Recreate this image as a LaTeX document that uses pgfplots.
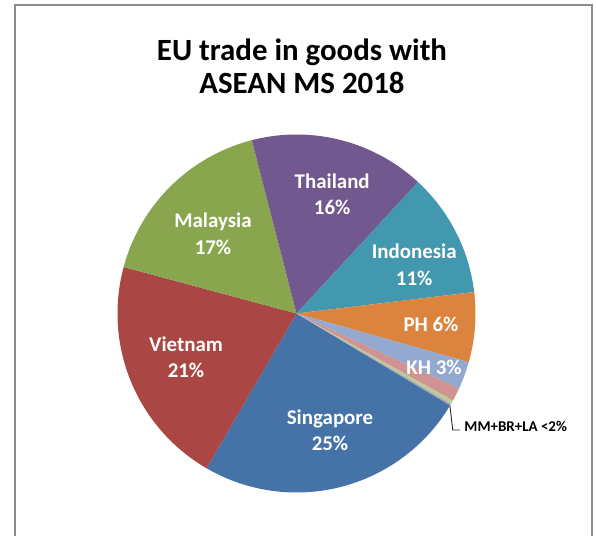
\documentclass[border=0pt]{standalone}
\usepackage{fontspec}
\setmainfont{Carlito}
\usepackage{pgfplots}
\pgfplotsset{compat=1.18}

\definecolor{cSing}{HTML}{4572A7}
\definecolor{cViet}{HTML}{AA4643}
\definecolor{cMal}{HTML}{89A54E}
\definecolor{cThai}{HTML}{71588F}
\definecolor{cIndo}{HTML}{4198AF}
\definecolor{cPH}{HTML}{DB843D}
\definecolor{cKH}{HTML}{93A9CF}
\definecolor{cMM}{HTML}{D19392}
\definecolor{cBR}{HTML}{B9CD96}
\definecolor{cLA}{HTML}{A99BBD}
\definecolor{frame}{HTML}{8C8C8C}

% one pie slice: share in percent, colour; runs clockwise from \startang
\newcommand{\slice}[2]{%
  \pgfmathsetmacro{\endang}{\startang - 3.6*#1}%
  \edef\temp{\noexpand\addplot[fill=#2, draw=none, domain=\endang:\startang, samples=80]
    ({cos(x)},{sin(x)}) -- (axis cs:0,0) -- cycle;}%
  \temp
  \global\let\startang\endang
}

\begin{document}
\begin{tikzpicture}
\begin{axis}[
  x=179bp, y=179bp,
  xmin=-1.6564, xmax=1.6732,
  ymin=-1.2430, ymax=1.7514,
  hide axis,
]
\path (axis cs:-1.6564,-1.2430) rectangle (axis cs:1.6732,1.7514);
\draw[frame, line width=1.3bp] (axis cs:-1.5726,-1.4) -- (axis cs:-1.5726,1.7235)
  -- (axis cs:1.6508,1.7235) -- (axis cs:1.6508,-1.4);

\gdef\startang{-30.9}
\slice{24.8}{cSing}
\slice{20.8}{cViet}
\slice{16.8}{cMal}
\slice{15.9}{cThai}
\slice{11.2}{cIndo}
\slice{6.3}{cPH}
\slice{2.5}{cKH}
\slice{1.2}{cMM}
\slice{0.35}{cBR}
\slice{0.15}{cLA}

% title
\node[anchor=base, font=\fontsize{31}{37}\selectfont\bfseries] at (axis cs:0.0307,1.4123) {EU trade in goods with};
\node[anchor=base, font=\fontsize{31}{37}\selectfont\bfseries] at (axis cs:0.0307,1.2302) {ASEAN MS 2018};

% slice labels
\tikzset{lbl/.style={anchor=base, text=white, font=\fontsize{21}{25}\selectfont\bfseries}}
\node[lbl] at (axis cs:0.1994,0.6994) {Thailand};
\node[lbl] at (axis cs:0.1994,0.5542) {16\%};
\node[lbl] at (axis cs:0.6575,0.3045) {Indonesia};
\node[lbl] at (axis cs:0.6575,0.1592) {11\%};
\node[lbl] at (axis cs:-0.4665,0.4793) {Malaysia};
\node[lbl] at (axis cs:-0.4665,0.3307) {17\%};
\node[lbl] at (axis cs:-0.6173,-0.2134) {Vietnam};
\node[lbl] at (axis cs:-0.6173,-0.3587) {21\%};
\node[lbl] at (axis cs:0.1872,-0.6190) {Singapore};
\node[lbl] at (axis cs:0.1872,-0.7626) {25\%};
\node[lbl] at (axis cs:0.7514,-0.1022) {PH 6\%};
\node[lbl] at (axis cs:0.7682,-0.3397) {KH 3\%};

% callout for the smallest slices
\draw[black!85, line width=0.9bp] (axis cs:0.8575,-0.5168) -- (axis cs:0.8726,-0.6508) -- (axis cs:0.9134,-0.6508);
\node[anchor=base west, inner sep=0pt, font=\fontsize{15}{18}\selectfont\bfseries] at (axis cs:0.9374,-0.6603) {MM+BR+LA <2\%};
\end{axis}
\end{tikzpicture}
\end{document}
